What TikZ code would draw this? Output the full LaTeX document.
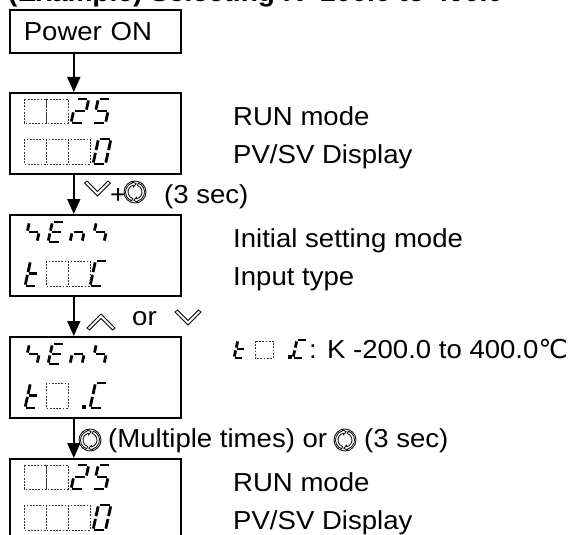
\documentclass[tikz,border=0pt]{standalone}
\usepackage{fontspec}
\setmainfont{Liberation Sans}[FakeStretch=1.06]
\newfontfamily\symfont{DejaVu Sans}
\usetikzlibrary{arrows.meta}
\newcommand\sgap{1.4}
\newcommand\sgA{\draw[seg] (\sgap,-\hh) -- (\ww-\sgap,-\hh);}
\newcommand\sgB{\draw[seg] (\ww,-\hh+\sgap) -- (\ww,-\hh/2-\sgap);}
\newcommand\sgC{\draw[seg] (\ww,-\hh/2+\sgap) -- (\ww,-\sgap);}
\newcommand\sgD{\draw[seg] (\sgap,0) -- (\ww-\sgap,0);}
\newcommand\sgE{\draw[seg] (0,-\hh/2+\sgap) -- (0,-\sgap);}
\newcommand\sgF{\draw[seg] (0,-\hh+\sgap) -- (0,-\hh/2-\sgap);}
\newcommand\sgG{\draw[seg] (\sgap,-\hh/2) -- (\ww-\sgap,-\hh/2);}
% x, y bottom, height, width, segments
\newcommand\segglyph[5]{\begin{scope}[shift={(#1,#2)},xslant=0.22]\def\hh{#3}\def\ww{#4}#5\end{scope}}
\begin{document}
\begin{tikzpicture}[x=1pt,y=-1pt,
  box/.style={draw, line width=1.6pt},
  arr/.style={line width=1.6pt, -{Triangle[width=13pt,length=15pt]}},
  txt/.style={font=\fontsize{26pt}{30pt}\selectfont, inner sep=0pt, anchor=base west},
  seg/.style={line width=2.8pt, line cap=butt},
  cell/.style={draw=black!80, line width=0.5pt, dash pattern=on 1.8pt off 1.4pt},
  icon/.style={draw, line width=0.8pt, fill=white, line join=miter},
  downkey/.pic={\draw[icon] (-13,-7) -- (0,6) -- (13,-7) -- (10.5,-9) -- (0,1.5) -- (-10.5,-9) -- cycle;},
  upkey/.pic={\draw[icon] (-14,7) -- (0,-7) -- (14,7) -- (11.5,9) -- (0,-2.5) -- (-11.5,9) -- cycle;},
  rotkey/.pic={\draw[icon] (0,0) circle (11);
     \foreach \a in {110,290}{
     \draw[icon] (\a:9.5) arc[start angle=\a, end angle=\a+145, radius=9.5]
       -- ({\a+145}:11) -- ({\a+168}:8.25) -- ({\a+145}:5.5) -- ({\a+145}:7)
       arc[start angle=\a+145, end angle=\a, radius=7] -- cycle;}},
]
\useasboundingbox (0,0) rectangle (573,535);

% title (cut at top edge)
\node[txt, font=\fontsize{26.5pt}{30pt}\selectfont\bfseries] (title) at (8,1.5) {(Example) Selecting K -200.0 to 400.0};

% boxes
\node[box, anchor=north west, minimum width=171pt, minimum height=43pt, text width=143pt, inner xsep=14pt, inner ysep=0pt, align=left, font=\fontsize{26pt}{30pt}\selectfont] (p) at (9,9) {\raisebox{-1.5pt}{Power ON}};
\foreach \i/\T in {1/92,2/214,3/336,4/458}
  \node[box, anchor=north west, minimum width=171pt, minimum height=81pt] (b\i) at (9,\T) {};

% arrows
\draw[arr] ([xshift=-21.5pt]p.south) -- ([xshift=-21.5pt]b1.north);
\draw[arr] ([xshift=-21.5pt]b1.south) -- ([xshift=-21.5pt]b2.north);
\draw[arr] ([xshift=-21.5pt]b2.south) -- ([xshift=-21.5pt]b3.north);
\draw[arr] ([xshift=-21.5pt]b3.south) -- ([xshift=-21.5pt]b4.north);

% box 1 and box 4 : "  25" / "   0"
\foreach \T in {92,458}{
  \draw[cell] (24,\T+7) rectangle (46,\T+31);
  \draw[cell] (46,\T+7) rectangle (68,\T+31);
  \segglyph{71}{\T+31}{24}{12.5}{\sgA\sgB\sgG\sgE\sgD}
  \segglyph{93}{\T+31}{24}{12.5}{\sgA\sgF\sgG\sgC\sgD}
  \draw[cell] (24,\T+47) rectangle (46,\T+72);
  \draw[cell] (46,\T+47) rectangle (68,\T+72);
  \draw[cell] (68,\T+47) rectangle (90,\T+72);
  \segglyph{93}{\T+72}{25}{12.5}{\sgA\sgB\sgC\sgD\sgE\sgF}
}

% box 2 and box 3 : both rows
\foreach \T in {214,336}{
  \segglyph{25}{\T+28}{20}{12}{\sgF\sgG\sgC}
  \segglyph{48}{\T+28}{20}{12}{\sgA\sgF\sgG\sgE\sgD}
  \segglyph{70}{\T+28}{20}{12}{\sgG\sgE\sgC}
  \segglyph{92}{\T+28}{20}{12}{\sgF\sgG\sgC}
  \segglyph{25}{\T+72}{25}{11}{\sgF\sgE\sgG\sgD}
  \segglyph{90}{\T+72}{25}{12}{\sgA\sgF\sgE\sgD}
}
% box 2 second row cells
\draw[cell] (46,261) rectangle (68,286);
\draw[cell] (68,261) rectangle (90,286);
% box 3 second row
\draw[cell] (46,383) rectangle (68,408);
\fill (82,405) rectangle (85.5,408.5);

% right-hand texts
\node[txt] (r1) at (233,125) {RUN mode};
\node[txt] (r2) at (233,163) {PV/SV Display};
\node[txt] (r3) at (233,247) {Initial setting mode};
\node[txt] (r4) at (233,285) {Input type};
\segglyph{234}{358}{18}{9.5}{\sgF\sgE\sgG\sgD}
\draw[cell] (255,341) rectangle (273,358);
\fill (288,355) rectangle (291.5,358.5);
\segglyph{293}{358}{18}{10.5}{\sgA\sgF\sgE\sgD}
\node[txt] (r5) at (309,358) {: K -200.0 to 400.0{\symfont ℃}};
\node[txt] (r6) at (233,491) {RUN mode};
\node[txt] (r7) at (233,529) {PV/SV Display};

% transition labels
\pic (k1) at (97.5,190) {downkey};
\node[txt] (l1a) at (110,203) {+};
\pic (k2) at (135,192) {rotkey};
\node[txt] (l1b) at (164,203) {(3 sec)};

\pic (k3) at (101,321) {upkey};
\node[txt] (l2) at (132,325) {or};
\pic (k4) at (188,319) {downkey};

\pic (k5) at (90,440) {rotkey};
\node[txt] (l3a) at (108,447) {(Multiple times) or};
\pic (k6) at (345,440) {rotkey};
\node[txt] (l3b) at (364,447) {(3 sec)};
\end{tikzpicture}
\end{document}
